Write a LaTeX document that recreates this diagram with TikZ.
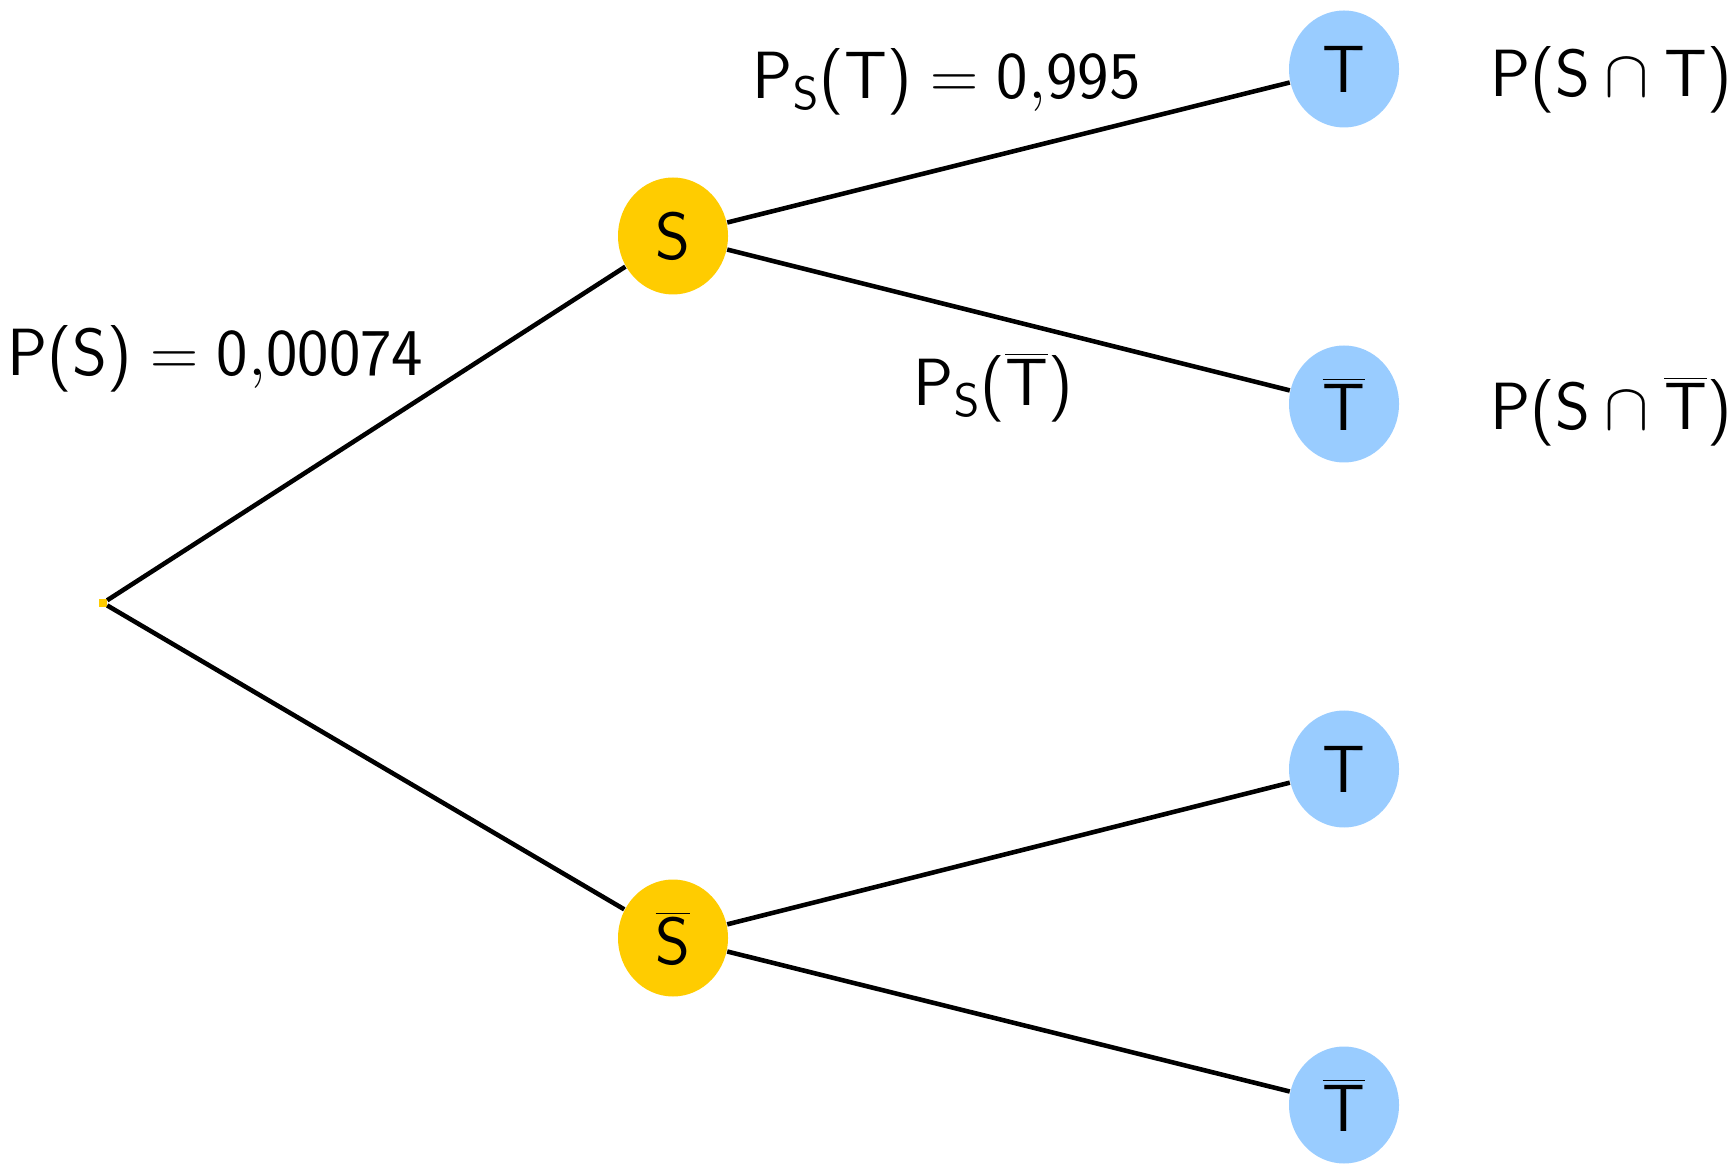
\documentclass[tikz,border=0pt]{standalone}
\usepackage{fix-cm}
\usetikzlibrary{shapes.geometric}
\definecolor{sgold}{HTML}{FFCC00}
\definecolor{tblue}{HTML}{99CCFF}
\newcommand{\lp}{\textsf{(}}
\newcommand{\rp}{\textsf{)}}
\begin{document}
\begin{tikzpicture}[
	every node/.style={font=\fontsize{19}{23}\selectfont},
	block/.style={ellipse, inner sep=0pt, minimum width=1.1cm, minimum height=1.17cm},
	event/.style={block, fill=sgold},
	result/.style={block, fill=tblue},
	prob/.style={anchor=base west, inner sep=0pt},
	line/.style={-, line width=1.3pt}
	]
	\useasboundingbox (0,0) rectangle (17.33,11.72);
	
	% Root
	\node[fill=sgold, inner sep=0pt, minimum size=2pt] (R) at (1.03,5.69) {};
	
	% First level
	\node[event] (S) at (6.73,9.36) {$\mathsf{S}$};
	\node[event] (Sb) at (6.73,2.34) {$\overline{\mathsf{S}}$};
	
	% Second level
	\node[result] (T1) at (13.44,11.03) {$\mathsf{T}$};
	\node[result] (Tb1) at (13.44,7.68) {$\overline{\mathsf{T}}$};
	\node[result] (T2) at (13.44,4.03) {$\mathsf{T}$};
	\node[result] (Tb2) at (13.44,0.67) {$\overline{\mathsf{T}}$};
	
	% Connections
	\foreach \i/\j in {R/S,R/Sb,S/T1,S/Tb1,Sb/T2,Sb/Tb2} {
		\draw[line] (\i) -- (\j);
	}
	
	% Probabilities
	\node[prob] (pS) at (0.07,7.96) {$\mathsf{P}\lp\mathsf{S}\rp=\mathsf{0{,}00074}$};
	\node[prob] (pST) at (7.52,10.73) {$\mathsf{P_S}\lp\mathsf{T}\rp=\mathsf{0{,}995}$};
	\node[prob] (pSTb) at (9.13,7.66) {$\mathsf{P_S}\lp\overline{\mathsf{T}}\rp$};
	\node[prob] (iST) at (14.90,10.75) {$\mathsf{P}\lp\mathsf{S}\cap\mathsf{T}\rp$};
	\node[prob] (iSTb) at (14.90,7.42) {$\mathsf{P}\lp\mathsf{S}\cap\overline{\mathsf{T}}\rp$};
\end{tikzpicture}
\end{document}
